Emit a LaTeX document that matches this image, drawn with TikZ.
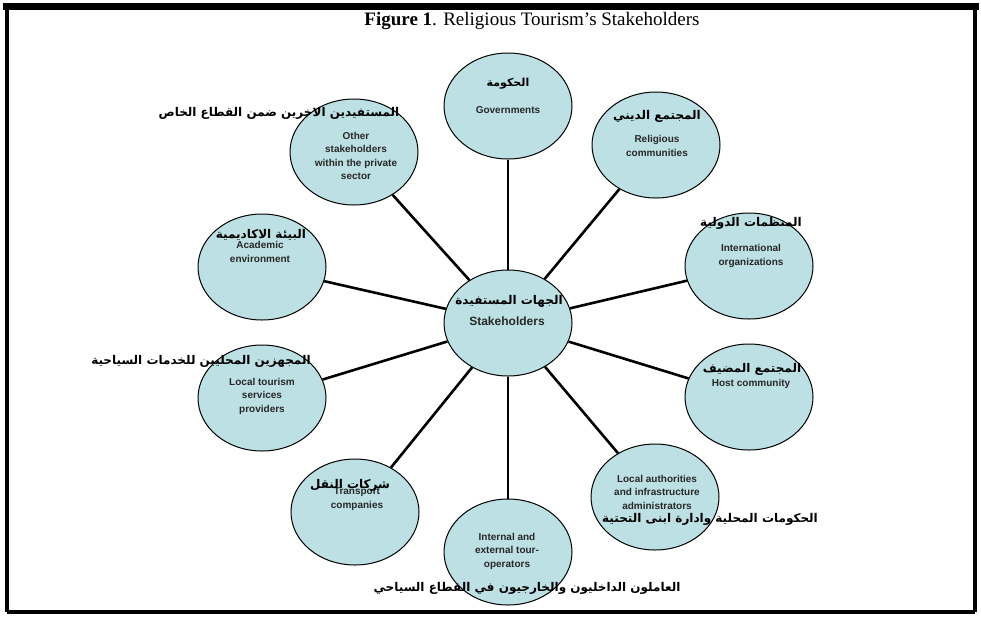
\documentclass[tikz,border=0pt]{standalone}
\usepackage{fontspec}
\setmainfont{Liberation Serif}
\newfontfamily\engfont{Liberation Sans}
\newfontfamily\arabicfont[Script=Arabic]{DejaVu Sans}
\TeXXeTstate=1
\usetikzlibrary{shapes.geometric}
\definecolor{bubble}{RGB}{188,224,228}
\definecolor{txtgray}{RGB}{40,40,40}
\tikzset{
  bub/.style={ellipse, draw=black, line width=1pt, fill=bubble, minimum width=128pt, minimum height=106pt, inner sep=0pt},
  eng/.style={font=\engfont\bfseries\fontsize{10}{13.5}\selectfont, text=txtgray, align=center, inner sep=0pt},
  ar/.style={font=\arabicfont\bfseries\fontsize{12}{14}\selectfont, inner sep=0pt},
  link/.style={line width=2.6pt, black},
  frame/.style={line width=3.5pt, black},
}
\begin{document}
\begin{tikzpicture}[x=1pt,y=-1pt]
\useasboundingbox (0,0) rectangle (981,622);
\fill[white] (0,0) rectangle (981,622);
% frame
\draw[frame] (7,612) -- (975,612);
\draw[frame] (7,6) -- (7,612);
\draw[frame] (975,6) -- (975,612);
\fill[black] (3,3) rectangle (979,10);
% title
\node[inner sep=0pt, anchor=base, font=\fontsize{19}{22}\selectfont] (title) at (532,25) {\textbf{Figure 1}. Religious Tourism's Stakeholders};
% bubbles
\node[bub] (c) at (508,323) {};
\node[bub] (gov) at (508,106) {};
\node[bub] (rel) at (656,145) {};
\node[bub] (intl) at (749,266) {};
\node[bub] (host) at (749,397) {};
\node[bub] (auth) at (655,497) {};
\node[bub] (tour) at (508,552) {};
\node[bub] (trans) at (355,512) {};
\node[bub] (loc) at (262,398) {};
\node[bub] (acad) at (262,267) {};
\node[bub] (other) at (354,152) {};
% connectors
\foreach \n in {gov,rel,intl,host,auth,tour,trans,loc,acad,other}
  \draw[link] (c) -- (\n);
% center labels
\node[ar] (cA) at (509,301) {\beginR الجهات المستفيدة\endR};
\node[eng, font=\engfont\bfseries\fontsize{12}{13}\selectfont] (cE) at (507,321) {Stakeholders};
% governments
\node[ar, font=\arabicfont\bfseries\fontsize{11}{13}\selectfont] (govA) at (508,84) {\beginR الحكومة\endR};
\node[eng] (govE) at (508,110) {Governments};
% religious
\node[ar] (relA) at (657,116) {\beginR المجتمع الديني\endR};
\node[eng] (relE) at (657,146) {Religious\\communities};
% international
\node[ar] (intlA) at (751,223) {\beginR المنظمات الدولية\endR};
\node[eng] (intlE) at (751,256) {International\\organizations};
% host
\node[ar] (hostA) at (752,369) {\beginR المجتمع المضيف\endR};
\node[eng] (hostE) at (751,384) {Host community};
% local authorities
\node[eng] (authE) at (657,492) {Local authorities\\and infrastructure\\administrators};
\node[ar] (authA) at (710,519) {\beginR الحكومات المحلية وادارة ابنى التحتية\endR};
% tour operators
\node[eng] (tourE) at (507,551) {Internal and\\external tour-\\operators};
\node[ar] (tourA) at (527,588) {\beginR العاملون الداخليون والخارجيون في القطاع السياحي\endR};
% transport
\node[eng] (transE) at (357,499) {Transport\\companies};
\node[ar] (transA) at (350,485) {\beginR شركات النقل\endR};
% local tourism
\node[eng] (locE) at (262,396) {Local tourism\\services\\providers};
\node[ar] (locA) at (201,361) {\beginR المجهزين المحليين للخدمات السياحية\endR};
% academic
\node[eng] (acadE) at (260,252) {Academic\\environment};
\node[ar] (acadA) at (261,235) {\beginR البيئة الاكاديمية\endR};
% other
\node[eng] (otherE) at (356,156) {Other\\stakeholders\\within the private\\sector};
\node[ar] (otherA) at (279,113) {\beginR المستفيدين الاخرين ضمن القطاع الخاص\endR};
\end{tikzpicture}
\end{document}
